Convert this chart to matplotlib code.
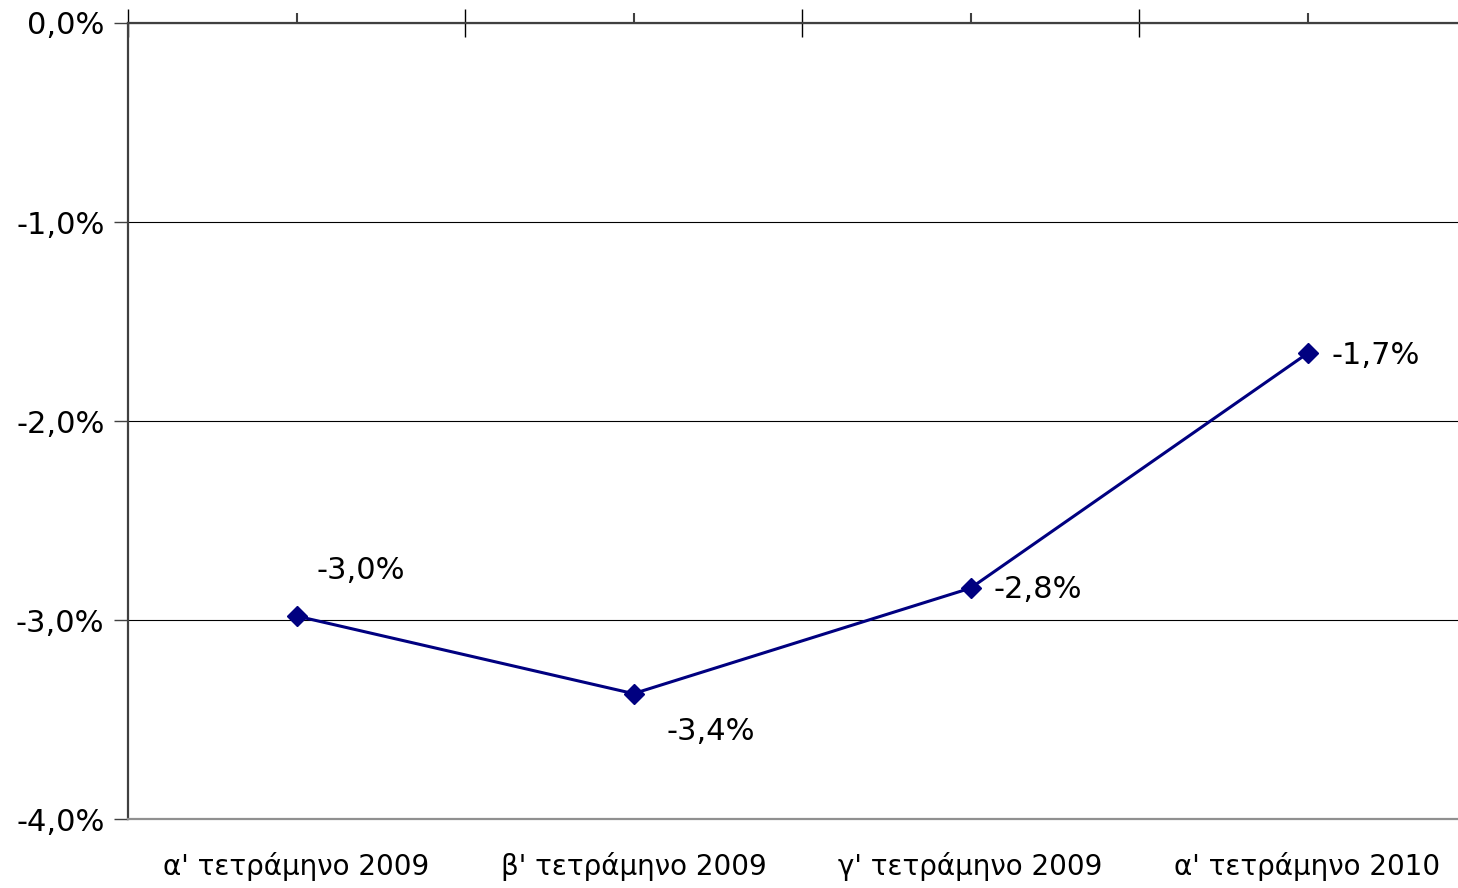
import matplotlib.pyplot as plt
from matplotlib.ticker import FuncFormatter

# quarterly change, percent
quarters = ["α' τετράμηνο 2009", "β' τετράμηνο 2009", "γ' τετράμηνο 2009", "α' τετράμηνο 2010"]
change = [-2.98, -3.37, -2.84, -1.66]
yticks = [0.0, -1.0, -2.0, -3.0, -4.0]

# label offsets (pixels) relative to each point
offsets = [(20, 46), (33, -38), (23, -1), (24, -2)]

plt.rcParams['font.family'] = ['DejaVu Sans']
navy = '#000080'

fig = plt.figure(figsize=(14.58, 8.88), dpi=100)
ax = fig.add_axes([128 / 1458, 1 - 819 / 888, 1348 / 1458, 796 / 888])

x = list(range(len(quarters)))
ax.plot(x, change, color=navy, lw=2.2, marker='D', markersize=10, zorder=3)

for xi, v, (dx, dy) in zip(x, change, offsets):
    ax.annotate(('%.1f%%' % v).replace('.', ','), (xi, v), xytext=(dx, dy),
                textcoords='offset pixels', ha='left', va='center', fontsize=22)

ax.set_xlim(-0.5, len(quarters) - 0.5)
ax.set_ylim(-4, 0)
ax.set_yticks(yticks)
ax.yaxis.set_major_formatter(FuncFormatter(lambda v, p: ('%.1f%%' % v).replace('.', ',')))
ax.tick_params(axis='y', labelsize=22, length=10, width=1, direction='out', pad=7, color='#404040')

# axis line sits at 0% on top; category names go below the plot
ax.set_xticks([i - 0.5 for i in x] + [len(quarters) - 0.5])
ax.set_xticks(x, minor=True)
ax.set_xticklabels(quarters, minor=True)
ax.tick_params(axis='x', which='major', top=True, bottom=False, labeltop=False, labelbottom=False,
               direction='inout', length=20, width=1, color='black')
ax.tick_params(axis='x', which='minor', top=True, bottom=False, labeltop=False, labelbottom=True,
               direction='out', length=7, width=1.5, color='#404040', labelsize=20, pad=17)

ax.grid(axis='y', color='black', lw=0.8)
ax.set_axisbelow(True)
ax.spines['right'].set_visible(False)
ax.spines['top'].set_color('#404040')
ax.spines['top'].set_linewidth(1.6)
ax.spines['left'].set_color('#404040')
ax.spines['left'].set_linewidth(1.6)
ax.spines['bottom'].set_color('#909090')
ax.spines['bottom'].set_linewidth(1.6)

fig.savefig('out.png', dpi=100)
